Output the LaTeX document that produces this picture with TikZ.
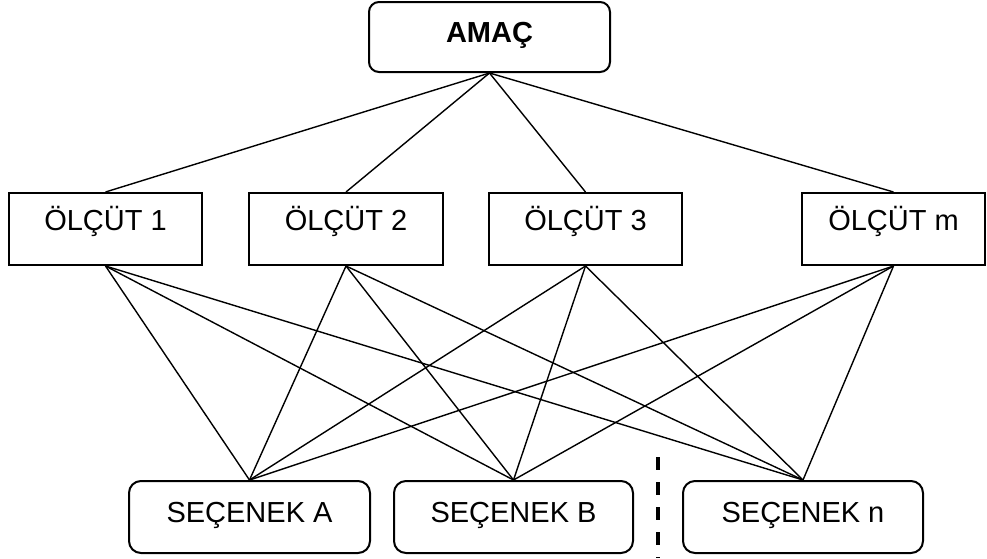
\documentclass[tikz,border=0pt]{standalone}
\usepackage{fontspec}
\setmainfont{Liberation Sans}
\begin{document}
\begin{tikzpicture}[x=1pt, y=-1pt,
  box/.style={draw, line width=2pt, inner sep=0pt, font=\fontsize{29}{35}\selectfont},
  goal/.style={box, rounded corners=10pt, minimum width=241pt, minimum height=70pt,
               text height=20pt, text depth=10pt, font=\fontsize{29}{35}\selectfont\bfseries},
  crit/.style={box, minimum width=193pt, minimum height=72pt, text height=20pt, text depth=18pt},
  alt/.style={box, rounded corners=12pt, minimum width=240pt, minimum height=72pt,
              text height=20pt, text depth=10pt},
  link/.style={line width=1.4pt},
  sep/.style={line width=4pt, dash pattern=on 13pt off 12pt}]
  \useasboundingbox (0,0) rectangle (987,558);

  % goal
  \node[goal] (amac) at (489.5,37) {AMAÇ};

  % criteria
  \node[crit] (o1) at (105.5,229) {ÖLÇÜT 1};
  \node[crit, minimum width=194pt] (o2) at (346,229) {ÖLÇÜT 2};
  \node[crit] (o3) at (585.5,229) {ÖLÇÜT 3};
  \node[crit, minimum width=183pt] (om) at (893.5,229) {ÖLÇÜT m};

  % alternatives
  \node[alt, minimum width=241pt] (sa) at (249.5,517) {SEÇENEK A};
  \node[alt, minimum width=239pt] (sb) at (513.5,517) {SEÇENEK B};
  \node[alt] (sn) at (803,517) {SEÇENEK n};

  % goal to criteria
  \foreach \c in {o1,o2,o3,om}
    \draw[link] (amac.south) -- (\c.north);

  % criteria to alternatives
  \foreach \c in {o1,o2,o3,om}
    \foreach \s in {sa,sb,sn}
      \draw[link] (\c.south) -- (\s.north);

  % separator before the last alternative
  \coordinate (septop) at (658,457);
  \coordinate (sepbot) at (658,558);
  \draw[sep] (septop) -- (sepbot);
\end{tikzpicture}
\end{document}
